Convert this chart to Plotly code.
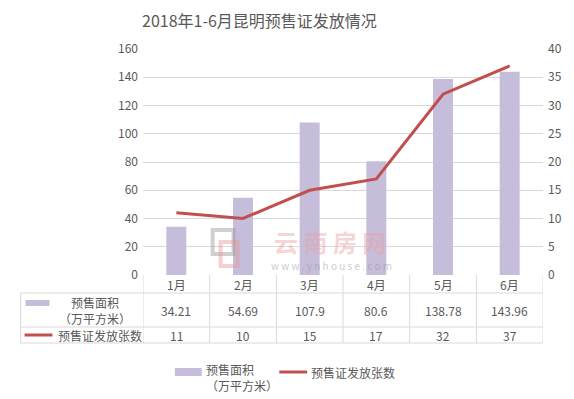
import plotly.graph_objects as go

months = ["1月", "2月", "3月", "4月", "5月", "6月"]
area = [34.21, 54.69, 107.9, 80.6, 138.78, 143.96]
area_labels = ["34.21", "54.69", "107.9", "80.6", "138.78", "143.96"]
count = [11, 10, 15, 17, 32, 37]
area_name = "预售面积<br>（万平方米）"
count_name = "预售证发放张数"
title = "2018年1-6月昆明预售证发放情况"

OFF = 8  # page body margin
W, H = 574 - OFF, 399 - OFF
L, R, T, B = 143 - OFF, 29, 49 - OFF, 124
PW, PH = W - L - R, H - T - B

def px(x):
    return (x - OFF - L) / PW

def py(y):
    return (H - B - (y - OFF)) / PH

BAR = "#c6bdda"
LINE = "#c0504d"
TXT = "#595959"
GRID = "#d9d9d9"
FONT = "Noto Sans CJK SC"

fig = go.Figure()
fig.add_trace(go.Bar(x=months, y=area, marker=dict(color=BAR, line=dict(width=0)),
                     width=0.3, name="预售面积（万平方米）", showlegend=False))
fig.add_trace(go.Scatter(x=months, y=count, yaxis="y2", mode="lines",
                         line=dict(color=LINE, width=3), name=count_name, showlegend=False))

shapes = []
ann = []

def text(x, y, s, size=12, color=TXT, xanchor="center", xref="paper", align="center"):
    ann.append(dict(x=x, y=y, xref=xref, yref="paper", text=s, showarrow=False,
                    xanchor=xanchor, yanchor="middle", align=align,
                    font=dict(size=size, color=color)))

# table lines
tl = px(20)
for yy in [293, 327, 343]:
    shapes.append(dict(type="line", xref="paper", yref="paper", x0=tl, x1=1, y0=py(yy), y1=py(yy),
                       line=dict(color=GRID, width=1)))
shapes.append(dict(type="line", xref="paper", yref="paper", x0=tl, x1=tl, y0=py(293), y1=py(343),
                   line=dict(color=GRID, width=1)))
for i in range(len(months) + 1):
    shapes.append(dict(type="line", xref="x", yref="paper", x0=i - 0.5, x1=i - 0.5,
                       y0=0, y1=py(343), line=dict(color=GRID, width=1)))

for i, m in enumerate(months):
    text(m, py(284), m, xref="x")
    text(m, py(310), area_labels[i], xref="x")
    text(m, py(335), str(count[i]), xref="x")

# table legend keys
shapes.append(dict(type="rect", xref="paper", yref="paper", x0=px(25), x1=px(49),
                   y0=py(306), y1=py(300), fillcolor=BAR, line=dict(width=0)))
text(px(95), py(310), area_name)
shapes.append(dict(type="line", xref="paper", yref="paper", x0=px(24), x1=px(52),
                   y0=py(335), y1=py(335), line=dict(color=LINE, width=3)))
text(px(56), py(335), count_name, xanchor="left")

# bottom legend
shapes.append(dict(type="rect", xref="paper", yref="paper", x0=px(175), x1=px(202),
                   y0=py(376), y1=py(368), fillcolor=BAR, line=dict(width=0)))
text(px(204), py(377), area_name, xanchor="left", align="left")
shapes.append(dict(type="line", xref="paper", yref="paper", x0=px(280), x1=px(308),
                   y0=py(372), y1=py(372), line=dict(color=LINE, width=3)))
text(px(310), py(372), count_name, xanchor="left")

# watermark
shapes.append(dict(type="rect", xref="paper", yref="paper", x0=px(213), x1=px(234),
                   y0=py(254), y1=py(230), line=dict(color="rgba(150,150,150,0.45)", width=4)))
shapes.append(dict(type="rect", xref="paper", yref="paper", x0=px(221), x1=px(238),
                   y0=py(266), y1=py(242), line=dict(color="rgba(230,150,150,0.45)", width=4)))
text(px(331), py(241), "<b>云 南 房 网</b>", size=24, color="rgba(235,160,160,0.45)")
text(px(332), py(265), "w w w . y n h o u s e . c o m", size=10, color="rgba(150,150,150,0.5)")

# title
text(px(260), py(20), title, size=16)

fig.update_layout(
    width=W, height=H, margin=dict(l=L, r=R, t=T, b=B),
    paper_bgcolor="white", plot_bgcolor="white",
    font=dict(family=FONT, color=TXT, size=12),
    xaxis=dict(showticklabels=False, showgrid=False, showline=False, zeroline=False,
               range=[-0.5, 5.5]),
    yaxis=dict(range=[0, 160], dtick=20, showgrid=True, gridcolor=GRID, zeroline=False,
               showline=False, ticks="", ticklabelstandoff=4, tickfont=dict(size=12, color=TXT)),
    yaxis2=dict(range=[0, 40], dtick=5, overlaying="y", side="right", showgrid=False,
                zeroline=False, showline=False, ticks="", ticklabelstandoff=4,
                tickfont=dict(size=12, color=TXT)),
    shapes=shapes, annotations=ann, showlegend=False,
)

fig.write_html("out.html")
